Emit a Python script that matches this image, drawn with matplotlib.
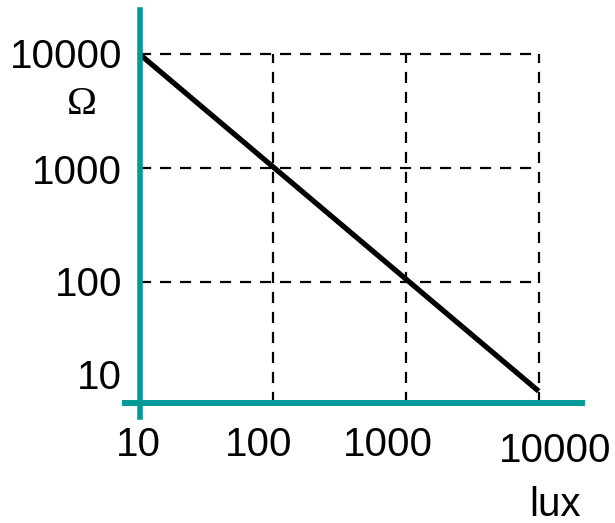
import matplotlib.pyplot as plt

# data
lux = [10, 10000]
ohm = [10000, 11]
x_ticks = [10, 100, 1000, 10000]
y_ticks = [10, 100, 1000, 10000]
x_grid = [100, 1000, 10000]
y_grid = [100, 1000, 10000]

teal = "#009B98"
dpi = 100
px = 72.0 / dpi  # points per pixel

plt.rcParams["font.family"] = ["Liberation Sans", "DejaVu Sans"]

fig = plt.figure(figsize=(6.15, 5.23), dpi=dpi)
ax = fig.add_axes([0.2276, 0.2304, 0.7187, 0.7505])
ax.set_xscale("log")
ax.set_yscale("log")
ax.set_xlim(10, 10 ** 4.326)
ax.set_ylim(10 ** 0.942, 10 ** 4.391)

# dashed grid, only inside the 10..10000 box
for gx in x_grid:
    ax.plot([gx, gx], [ax.get_ylim()[0], 10000], color="black", lw=1.6,
            linestyle=(0, (5, 4)), zorder=1)
for gy in y_grid:
    ax.plot([10, 10000], [gy, gy], color="black", lw=1.6,
            linestyle=(0, (5, 4)), zorder=1)

ax.plot(lux, ohm, color="black", lw=3.8, solid_capstyle="butt", zorder=3)

# teal axis lines that cross each other
for s in ax.spines.values():
    s.set_visible(False)
ax.plot([0, 0], [-0.037, 1], color=teal, lw=4, transform=ax.transAxes,
        clip_on=False, zorder=4)
ax.plot([-0.034, 1], [0, 0], color=teal, lw=4.3, transform=ax.transAxes,
        clip_on=False, zorder=4)

ax.set_xticks([])
ax.set_yticks([])
ax.minorticks_off()

# tick labels placed a little off the grid, as in the picture
x_off = [(-2, -42.5), (-14, -42.5), (-18, -42.5), (16, -48.5)]
for v, (dx, dy) in zip(x_ticks, x_off):
    ax.annotate(str(v), xy=(v, 0), xycoords=("data", "axes fraction"),
                xytext=(dx * px, dy * px), textcoords="offset points",
                ha="center", va="center", fontsize=29, annotation_clip=False)

y_off = [18, -3, -5, -3]
for v, dy in zip(y_ticks, y_off):
    ax.annotate(str(v), xy=(0, v), xycoords=("axes fraction", "data"),
                xytext=(-18 * px, dy * px), textcoords="offset points",
                ha="right", va="center", fontsize=29, annotation_clip=False)

fig.text(82 / 615, 1 - 104 / 523, "Ω", family="Liberation Serif",
         fontsize=29, ha="center", va="center")
fig.text(555 / 615, 1 - 505 / 523, "lux", fontsize=29, ha="center", va="center")

fig.savefig("out.png", dpi=dpi)
